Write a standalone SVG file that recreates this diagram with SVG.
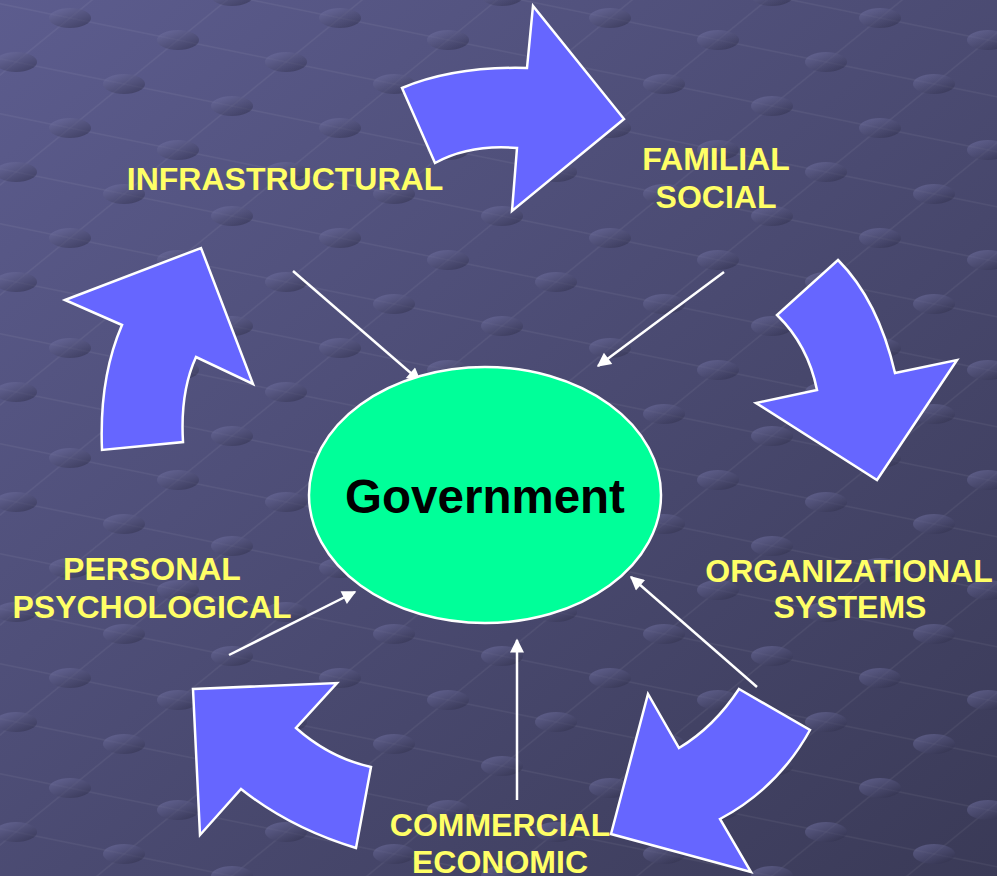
<svg xmlns="http://www.w3.org/2000/svg" width="997" height="876" viewBox="0 0 997 876">
<defs>
<linearGradient id="bg" x1="0" y1="0" x2="1" y2="1">
<stop offset="0" stop-color="#5c5c8e"/>
<stop offset="1" stop-color="#3a3a57"/>
</linearGradient>
<linearGradient id="dot" x1="0" y1="0" x2="0.8" y2="1">
<stop offset="0" stop-color="#7a7aae" stop-opacity="0.55"/>
<stop offset="1" stop-color="#2e2e4a" stop-opacity="0.55"/>
</linearGradient>
<pattern id="grid" width="270" height="110" patternUnits="userSpaceOnUse" patternTransform="translate(70,18)">
<g stroke="#ffffff" stroke-opacity="0.05" stroke-width="1.5">
<line x1="0" y1="-55" x2="270" y2="0"/>
<line x1="0" y1="0" x2="270" y2="55"/>
<line x1="0" y1="55" x2="270" y2="110"/>
<line x1="0" y1="110" x2="270" y2="165"/>
<line x1="0" y1="0" x2="270" y2="-220"/>
<line x1="0" y1="110" x2="270" y2="-110"/>
<line x1="0" y1="220" x2="270" y2="0"/>
<line x1="0" y1="330" x2="270" y2="110"/>
</g>
<g fill="url(#dot)">
<ellipse cx="0" cy="0" rx="21" ry="10"/>
<ellipse cx="270" cy="0" rx="21" ry="10"/>
<ellipse cx="0" cy="110" rx="21" ry="10"/>
<ellipse cx="270" cy="110" rx="21" ry="10"/>
<ellipse cx="108" cy="22" rx="21" ry="10"/>
<ellipse cx="216" cy="44" rx="21" ry="10"/>
<ellipse cx="54" cy="66" rx="21" ry="10"/>
<ellipse cx="162" cy="88" rx="21" ry="10"/>
</g>
</pattern>
<marker id="ah" viewBox="0 0 10 10" refX="9" refY="5" markerWidth="7" markerHeight="5.6" markerUnits="strokeWidth" orient="auto">
<path d="M0,0 L10,5 L0,10 Z" fill="#ffffff"/>
</marker>
<style>
.lbl{font-family:"Liberation Sans",Arial,sans-serif;font-weight:bold;font-size:32px;fill:#ffff66;text-anchor:middle}
.big{fill:#6666ff;stroke:#ffffff;stroke-width:2.5;stroke-linejoin:miter}
.con{stroke:#ffffff;stroke-width:2.5;fill:none;marker-end:url(#ah)}
</style>
</defs>
<rect width="997" height="876" fill="url(#bg)"/>
<rect width="997" height="876" fill="url(#grid)"/>

<g id="cycle-arrows">
<path id="arrow-top" class="big" d="M402,88 Q455,66 527,68 L533,6 L624,119 L512,211 L517,148 Q470,144 435,163 Z"/>
<path id="arrow-right" class="big" d="M838,260 Q878,300 895,373 L957,360 L877,480 L756,403 L817,390 Q808,345 777,315 Z"/>
<path id="arrow-bottom-right" class="big" d="M739,689 L810,730 Q778,788 720,819 L751,872 L611,834 L648,694 L679,748 Q714,727 739,689 Z"/>
<path id="arrow-bottom-left" class="big" d="M193,689 L337,683 L296,728 Q330,758 371,767 L356,848 Q290,828 241,789 L200,835 Z"/>
<path id="arrow-left" class="big" d="M65,300 L201,248 L253,384 L196,357 Q180,392 183,442 L102,450 Q99,378 122,325 Z"/>
</g>

<g id="connectors">
<line class="con" x1="293" y1="271" x2="420" y2="381"/>
<line class="con" x1="724" y1="272" x2="598" y2="366"/>
<line class="con" x1="229" y1="655" x2="355" y2="592"/>
<line class="con" x1="517" y1="800" x2="517" y2="640"/>
<line class="con" x1="757" y1="687" x2="631" y2="577"/>
</g>

<g id="government">
<ellipse cx="485" cy="495" rx="176" ry="128" fill="#00ff99" stroke="#ffffff" stroke-width="2.5"/>
<text x="485" y="513" font-family="Liberation Sans, Arial, sans-serif" font-weight="bold" font-size="47.5" fill="#000000" text-anchor="middle">Government</text>
</g>

<g id="infrastructural"><text class="lbl" x="285" y="190">INFRASTRUCTURAL</text></g>
<g id="familial-social"><text class="lbl" x="716" y="170">FAMILIAL</text><text class="lbl" x="716" y="208">SOCIAL</text></g>
<g id="organizational-systems"><text class="lbl" x="849" y="582">ORGANIZATIONAL</text><text class="lbl" x="850" y="618">SYSTEMS</text></g>
<g id="commercial-economic"><text class="lbl" x="500" y="836">COMMERCIAL</text><text class="lbl" x="500" y="873">ECONOMIC</text></g>
<g id="personal-psychological"><text class="lbl" x="152" y="580">PERSONAL</text><text class="lbl" x="152" y="618">PSYCHOLOGICAL</text></g>
</svg>
